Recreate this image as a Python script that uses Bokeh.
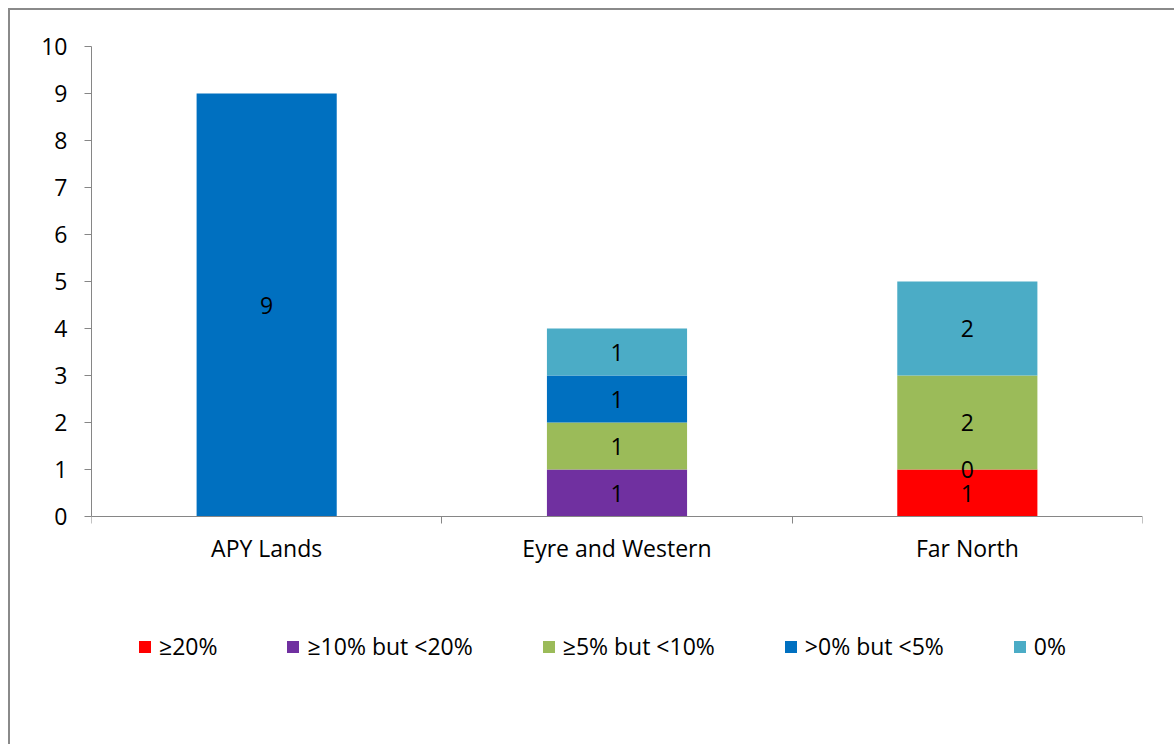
from bokeh.plotting import figure
from bokeh.models import ColumnDataSource, FixedTicker, Legend, LegendItem, Range1d
from bokeh.core.properties import value
from bokeh.embed import file_html
from bokeh.resources import INLINE

# ---- data ----
regions = ["APY Lands", "Eyre and Western", "Far North"]
bands = ["≥20%", "≥10% but <20%", "≥5% but <10%", ">0% but <5%", "0%"]
ge20 = [None, None, 1]
ge10_lt20 = [None, 1, 0]
ge5_lt10 = [None, 1, 2]
gt0_lt5 = [9, 1, None]
zero_pct = [None, 1, 2]
colors = ["#FF0000", "#7030A0", "#9BBB59", "#0070C0", "#4BACC6"]
y_ticks = list(range(0, 11))
y_max = 10

series = [ge20, ge10_lt20, ge5_lt10, gt0_lt5, zero_pct]
keys = ["s%d" % i for i in range(len(series))]
xs = [i + 0.5 for i in range(len(regions))]

data = {"x": xs}
for k, s in zip(keys, series):
    data[k] = [0 if v is None else v for v in s]
src = ColumnDataSource(data)

# label positions
lx, ly, lt = [], [], []
for ci, x in enumerate(xs):
    bottom = 0
    for s in series:
        v = s[ci]
        if v is None:
            continue
        lx.append(x)
        ly.append(bottom + v / 2)
        lt.append(str(v))
        bottom += v
lab_src = ColumnDataSource(dict(x=lx, y=ly, t=lt))

FONT = "Open Sans"
FS = "23px"

FRAME_H = 640
PX_PER_UNIT = 47.0
y_start = y_max - FRAME_H / PX_PER_UNIT

p = figure(frame_width=1051, frame_height=FRAME_H,
           x_range=Range1d(0, len(regions)), y_range=Range1d(y_start, y_max),
           output_backend="svg", toolbar_location=None,
           min_border_left=81, min_border_top=36, min_border_right=32, min_border_bottom=58)
p.styles = {"margin-left": "8px", "margin-top": "8px",
            "border-left": "2px solid #8a8a8a", "border-top": "2px solid #8a8a8a"}
p.outline_line_color = None
p.xgrid.grid_line_color = None
p.ygrid.grid_line_color = None
p.background_fill_color = "white"
p.border_fill_color = "white"

rs = p.vbar_stack(keys, x="x", width=0.4, source=src, color=colors, line_color=None)

p.text(x="x", y="y", text="t", source=lab_src, text_align="center", text_baseline="middle",
       text_font=value(FONT), text_font_size=FS, text_color="black")

ax = p.xaxis[0]
ax.fixed_location = 0
ax.ticker = FixedTicker(ticks=xs, minor_ticks=list(range(len(regions) + 1)))
ax.major_label_overrides = {x: r for x, r in zip(xs, regions)}
ax.major_tick_line_color = None
ax.minor_tick_line_color = "#868686"
ax.minor_tick_out = 7
ax.minor_tick_in = 0
ax.axis_line_color = "#868686"
ax.major_label_text_font = FONT
ax.major_label_text_font_size = FS
ax.major_label_text_color = "black"
ax.major_label_standoff = 8

ay = p.yaxis[0]
ay.bounds = (0, y_max)
ay.ticker = FixedTicker(ticks=y_ticks)
ay.minor_tick_line_color = None
ay.major_tick_line_color = "#868686"
ay.major_tick_out = 7
ay.major_tick_in = 0
ay.axis_line_color = "#868686"
ay.major_label_text_font = FONT
ay.major_label_text_font_size = FS
ay.major_label_text_color = "black"
ay.major_label_standoff = 17

items = [LegendItem(label=b, renderers=[r]) for b, r in zip(bands, rs)]
leg = Legend(items=items, orientation="horizontal", location=(46, 24),
             glyph_width=15, glyph_height=15, label_standoff=7, spacing=68,
             label_text_font=FONT, label_text_font_size=FS, label_text_color="black",
             border_line_color=None, background_fill_alpha=0, padding=10, margin=0)
p.add_layout(leg)

open("out.html", "w").write(file_html(p, INLINE))
